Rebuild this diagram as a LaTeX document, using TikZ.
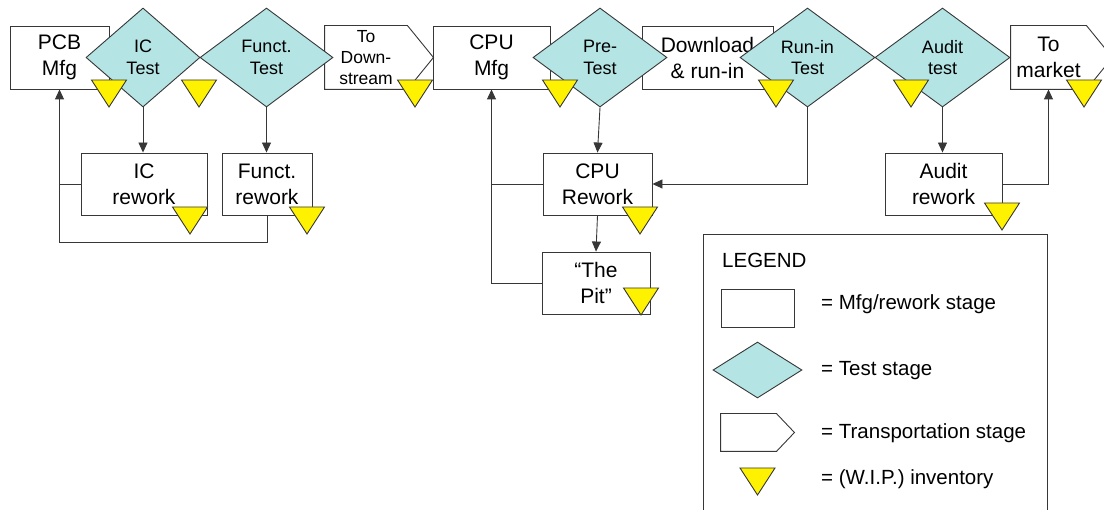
\documentclass[tikz,border=0pt]{standalone}
\usepackage{fontspec}
\setmainfont{Liberation Sans}
\usetikzlibrary{shapes.geometric,arrows.meta}

\definecolor{testcyan}{RGB}{180,228,228}
\definecolor{edgegray}{RGB}{55,55,55}

\newcommand{\transportshape}[2]{%
  \draw[link] (#1.north west) -- (#1.north east) -- ([xshift=#2]#1.east)
    -- (#1.south east) -- (#1.south west) -- cycle;}

\begin{document}
\begin{tikzpicture}[x=1pt, y=-1pt,
    every node/.style={font=\fontsize{21}{26}\selectfont, align=center},
    link/.style={draw=edgegray, line width=0.9pt},
    flow/.style={link, -{Triangle[length=10pt,width=9pt]}},
    stage/.style={link, fill=white, minimum height=63pt, inner sep=1pt},
    transport/.style={stage, draw=none, fill=none},
    test/.style={diamond, link, fill=testcyan, inner sep=0pt, minimum height=99pt,
      font=\fontsize{18}{21.5}\selectfont},
    label/.style={anchor=base west, inner sep=0pt, font=\fontsize{20.5}{25}\selectfont},
    wip/.pic={\draw[link, fill=yellow] (-17.5,0) -- (17.5,0) -- (0,27) -- cycle;}]
  \useasboundingbox (0,0) rectangle (1104,510);

  \node[stage, minimum width=99pt] (pcb) at (59.5,57.5) {PCB\\Mfg};
  \node[transport, minimum width=82pt, font=\fontsize{17.5}{21}\selectfont] (todown) at (366,57.5) {To\\Down-\\stream};
  \node[stage, minimum width=117pt] (cpumfg) at (491.5,57.5) {CPU\\Mfg};
  \node[stage, minimum width=131pt] (download) at (707.5,57.5) {Download\\\& run-in};
  \node[transport, minimum width=75pt] (market) at (1048.5,57.5) {To\\market};
  \transportshape{todown}{26pt}
  \transportshape{market}{26pt}

  \node[stage, minimum width=126pt, minimum height=62pt] (icrework) at (144,184) {IC\\rework};
  \node[stage, minimum width=90pt, minimum height=62pt] (functrework) at (267,184) {Funct.\\rework};
  \node[stage, minimum width=109pt, minimum height=62pt] (cpurework) at (597.5,184) {CPU\\Rework};
  \node[stage, minimum width=108pt, minimum height=62pt] (pit) at (596,283) {“The\\Pit”};
  \node[stage, minimum width=117pt, minimum height=62pt] (auditrework) at (943.5,184) {Audit\\rework};

  \node[test, minimum width=114pt] (ictest) at (143,57.5) {IC\\Test};
  \node[test, minimum width=133pt] (functtest) at (266.5,57.5) {Funct.\\Test};
  \node[test, minimum width=134pt] (pretest) at (600,57.5) {Pre-\\Test};
  \node[test, minimum width=135pt] (runtest) at (807.5,57.5) {Run-in\\Test};
  \node[test, minimum width=135pt] (audittest) at (942.5,57.5) {Audit\\test};

  \coordinate (pcbloop) at (59.5,242);
  \draw[flow] (ictest.south) -- (ictest.south |- icrework.north);
  \draw[flow] (functtest.south) -- (functtest.south |- functrework.north);
  \draw[link] (icrework.west) -- (icrework.west -| pcb.south);
  \draw[flow] (functrework.south) |- (pcbloop) -- (pcb.south);
  \draw[flow] (pretest.south) -- (cpurework.north);
  \draw[flow] (cpurework.south) -- (pit.north);
  \draw[link] (cpurework.west) -- (cpurework.west -| cpumfg.south);
  \draw[flow] (pit.west) -| (cpumfg.south);
  \draw[flow] (runtest.south) |- (cpurework.east);
  \draw[flow] (audittest.south) -- (audittest.south |- auditrework.north);
  \draw[flow] (auditrework.east) -| (market.south);

  \foreach \x/\y in {109/80, 199/80, 415/80, 560/80, 776/80, 911/80, 1084/80,
      190/207, 307/207, 640/207, 1002/203, 641/288}
    \pic at (\x,\y) {wip};

  \draw[link] (703,234) rectangle (1047,530);
  \node[label] (legendtitle) at (722,268) {LEGEND};
  \node[stage, minimum width=73pt, minimum height=38pt] (keystage) at (757.5,308) {};
  \node[test, minimum width=89pt, minimum height=56pt] (keytest) at (757.5,370) {};
  \node[transport, minimum width=55pt, minimum height=37pt] (keytransport) at (748.5,432.5) {};
  \transportshape{keytransport}{18pt}
  \pic at (757.5,468) {wip};
  \node[label] (keystagetext) at (821,310) {= Mfg/rework stage};
  \node[label] (keytesttext) at (821,376) {= Test stage};
  \node[label] (keytransporttext) at (821,439) {= Transportation stage};
  \node[label] (keywiptext) at (821,485) {= (W.I.P.) inventory};
\end{tikzpicture}
\end{document}
